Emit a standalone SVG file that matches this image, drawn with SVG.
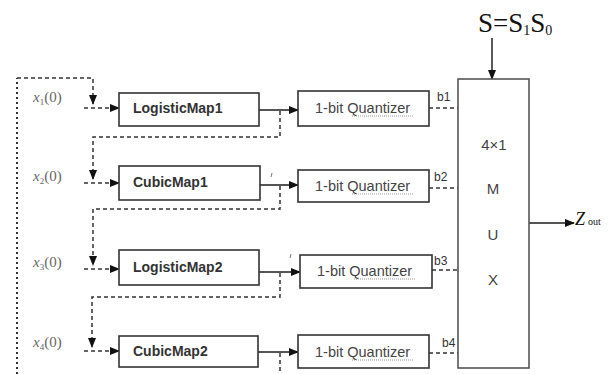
<svg xmlns="http://www.w3.org/2000/svg" width="614" height="374" viewBox="0 0 614 374">
<defs>
<marker id="ah" markerWidth="10" markerHeight="8" refX="9" refY="4" orient="auto" markerUnits="userSpaceOnUse">
<path d="M0,0 L10,4 L0,8 Z" fill="#111"/>
</marker>
<style>
.box{fill:#fff;stroke:#333;stroke-width:1.6}
.mux{fill:#fff;stroke:#555;stroke-width:1.6}
.map{font-family:"Liberation Sans",Arial,sans-serif;font-weight:bold;font-size:14px;fill:#333}
.q{font-family:"Liberation Sans",Arial,sans-serif;font-size:14.5px;fill:#444}
.sq{stroke:#999;stroke-width:1;stroke-dasharray:1,1;fill:none}
.b{font-family:"Liberation Sans",Arial,sans-serif;font-size:12px;fill:#333}
.xl{font-family:"Liberation Serif","Times New Roman",serif;font-size:15px;fill:#666}
.mt{font-family:"Liberation Sans",Arial,sans-serif;font-size:15px;fill:#444;text-anchor:middle}
.ser{font-family:"Liberation Serif","Times New Roman",serif;fill:#111}
.solid{stroke:#555;stroke-width:2;fill:none}
.dash{stroke:#333;stroke-width:1.5;stroke-dasharray:4,3;fill:none}
.dot{stroke:#333;stroke-width:2;stroke-dasharray:2,3;fill:none}
.tick{stroke:#777;stroke-width:1}
</style>
</defs>

<g id="connectors">
<path class="dot" d="M17,374 V78"/>
<path class="dash" d="M17,78 H93 V104" marker-end="url(#ah)"/>
<path class="dash" d="M84,108 H119" marker-end="url(#ah)"/>
<path class="dash" d="M84,183 H119" marker-end="url(#ah)"/>
<path class="dash" d="M84,269 H119" marker-end="url(#ah)"/>
<path class="dash" d="M84,351 H119" marker-end="url(#ah)"/>
<path class="solid" d="M259,110 H298" marker-end="url(#ah)"/>
<path class="solid" d="M260,185 H298" marker-end="url(#ah)"/>
<path class="solid" d="M259,272 H300" marker-end="url(#ah)"/>
<path class="solid" d="M258,352 H298" marker-end="url(#ah)"/>
<path class="dash" d="M280,111 V137 H93 V179" marker-end="url(#ah)"/>
<path class="dash" d="M280,186 V209 H93 V265" marker-end="url(#ah)"/>
<path class="dash" d="M280,273 V297 H92 V347" marker-end="url(#ah)"/>
<path class="dash" d="M280,353 V374"/>
<path class="dash" d="M429,108 H458"/>
<path class="dash" d="M429,188 H458"/>
<path class="dash" d="M432,270 H458"/>
<path class="dash" d="M429,353 H458"/>
<path d="M492,38 V79" stroke="#222" stroke-width="1.5" marker-end="url(#ah)"/>
<path d="M529,223 H574" stroke="#555" stroke-width="2" marker-end="url(#ah)"/>
<line class="tick" x1="272" y1="173" x2="271" y2="177"/>
<line class="tick" x1="291" y1="254" x2="290" y2="258"/>
</g>

<g id="labels">
<text class="xl" x="33" y="102"><tspan font-style="italic">x</tspan><tspan font-size="9" dy="3">1</tspan><tspan dy="-3">(0)</tspan></text>
<text class="xl" x="33" y="181"><tspan font-style="italic">x</tspan><tspan font-size="9" dy="3">2</tspan><tspan dy="-3">(0)</tspan></text>
<text class="xl" x="33" y="267"><tspan font-style="italic">x</tspan><tspan font-size="9" dy="3">3</tspan><tspan dy="-3">(0)</tspan></text>
<text class="xl" x="33" y="347"><tspan font-style="italic">x</tspan><tspan font-size="9" dy="3">4</tspan><tspan dy="-3">(0)</tspan></text>
<text class="b" x="437" y="101">b1</text>
<text class="b" x="434" y="181">b2</text>
<text class="b" x="434" y="265">b3</text>
<text class="b" x="442" y="347">b4</text>
<text class="ser" x="478" y="32" font-size="27">S=S<tspan font-size="14" dy="3">1</tspan><tspan dy="-3">S</tspan><tspan font-size="14" dy="3">0</tspan></text>
<text class="ser" x="575" y="225" font-size="18" font-style="italic" fill="#222">Z<tspan font-size="10" font-style="normal" dx="3">out</tspan></text>
</g>

<g id="logisticmap1">
<rect class="box" x="119" y="93" width="140" height="33"/>
<text class="map" x="133" y="113">LogisticMap1</text>
</g>
<g id="cubicmap1">
<rect class="box" x="119" y="166" width="141" height="34"/>
<text class="map" x="133" y="187">CubicMap1</text>
</g>
<g id="logisticmap2">
<rect class="box" x="119" y="250" width="140" height="35"/>
<text class="map" x="133" y="272">LogisticMap2</text>
</g>
<g id="cubicmap2">
<rect class="box" x="119" y="336" width="139" height="31"/>
<text class="map" x="133" y="356">CubicMap2</text>
</g>

<g id="quantizer1">
<rect class="box" x="298" y="91" width="131" height="35"/>
<text class="q" x="315" y="113">1-bit Quantizer</text>
<path class="sq" d="M352,116 H413"/>
</g>
<g id="quantizer2">
<rect class="box" x="298" y="170" width="131" height="32"/>
<text class="q" x="315" y="191">1-bit Quantizer</text>
<path class="sq" d="M352,194 H413"/>
</g>
<g id="quantizer3">
<rect class="box" x="300" y="255" width="132" height="33"/>
<text class="q" x="317" y="276">1-bit Quantizer</text>
<path class="sq" d="M354,279 H415"/>
</g>
<g id="quantizer4">
<rect class="box" x="298" y="335" width="131" height="33"/>
<text class="q" x="315" y="357">1-bit Quantizer</text>
<path class="sq" d="M352,360 H413"/>
</g>

<g id="mux">
<rect class="mux" x="458" y="79" width="71" height="289"/>
<text class="mt" x="494" y="150">4×1</text>
<text class="mt" x="493" y="194">M</text>
<text class="mt" x="493" y="240">U</text>
<text class="mt" x="493" y="285">X</text>
</g>
</svg>
